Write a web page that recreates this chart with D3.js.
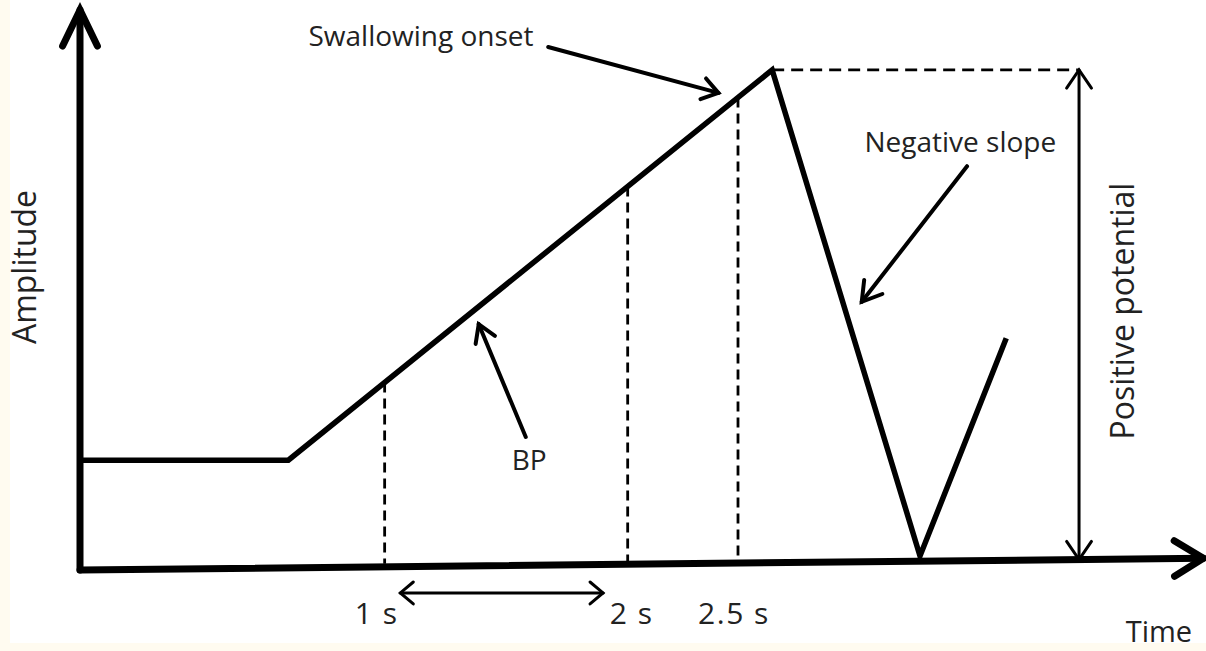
<!DOCTYPE html>
<html>
<head>
<meta charset="utf-8">
<script src="https://d3js.org/d3.v7.min.js"></script>
<style>
  body { margin: 0; background: #fffbf0; }
  text { font-family: "Open Sans", Lato, sans-serif; fill: #222; }
</style>
</head>
<body>
<div id="chart"></div>
<script>
// schematic of the swallowing potential (arbitrary units, time 0-100, amplitude 0-100)
const signalTime = [0, 18.6, 61.8, 75.0, 82.7];
const signalAmp  = [19.6, 19.6, 89.3, 2.5, 41.4];

// dashed markers along the rising limb
const markerTimes  = [27.2, 48.9, 58.75];
const markerLabels = ["1 s", "2 s", "2.5 s"];

// axis ends (x axis is drawn slightly tilted, like the original)
const axisEndTime = 100.3;
const axisEndAmp  = 2.1;
const yAxisTop    = 100;

// positive potential measured at this time
const potentialTime = 89.2;
// time span arrow between 1 s and 2 s
const spanTimes = [28.6, 46.7];

const width = 1206, height = 651;

const svg = d3.select("#chart").append("svg")
    .attr("width", width)
    .attr("height", height);

// white paper with thin cream border left/bottom
svg.append("rect")
    .attr("x", 10).attr("y", 0)
    .attr("width", width - 10).attr("height", 643)
    .attr("fill", "#ffffff");

let x = d3.scaleLinear().domain([0, 100]).range([80, 1200]);
let y = d3.scaleLinear().domain([0, 100]).range([570, 10]);

// interpolate amplitude on the signal for a given time
function ampAt(t) {
    for (let i = 0; i < signalTime.length - 1; i++) {
        if (t >= signalTime[i] && t <= signalTime[i + 1]) {
            let f = (t - signalTime[i]) / (signalTime[i + 1] - signalTime[i]);
            return signalAmp[i] + f * (signalAmp[i + 1] - signalAmp[i]);
        }
    }
    return 0;
}

// open chevron head at tip, pointing from `from` towards tip
function chevron(g, tip, from, len, ang, sw) {
    let a = Math.atan2(tip[1] - from[1], tip[0] - from[0]);
    let p1 = [tip[0] - len * Math.cos(a - ang), tip[1] - len * Math.sin(a - ang)];
    let p2 = [tip[0] - len * Math.cos(a + ang), tip[1] - len * Math.sin(a + ang)];
    g.append("path")
        .attr("d", d3.line()([p1, tip, p2]))
        .attr("fill", "none")
        .attr("stroke", "#000")
        .attr("stroke-width", sw)
        .attr("stroke-linecap", "round")
        .attr("stroke-linejoin", "miter");
}

function arrow(g, from, tip, sw, len, ang, both) {
    g.append("line")
        .attr("x1", from[0]).attr("y1", from[1])
        .attr("x2", tip[0]).attr("y2", tip[1])
        .attr("stroke", "#000")
        .attr("stroke-width", sw)
        .attr("stroke-linecap", "round");
    chevron(g, tip, from, len, ang, sw);
    if (both) chevron(g, from, tip, len, ang, sw);
}

let plot = svg.append("g");

// dashed markers
plot.selectAll(".marker")
    .data(markerTimes)
    .enter()
    .append("line")
    .attr("class", "marker")
    .attr("x1", d => x(d)).attr("x2", d => x(d))
    .attr("y1", d => y(ampAt(d)))
    .attr("y2", d => y(axisEndAmp * d / axisEndTime) - 3)
    .attr("stroke", "#000")
    .attr("stroke-width", 2.8)
    .attr("stroke-dasharray", "10,6");

// dashed line from peak to the potential arrow
let peakIdx = d3.maxIndex(signalAmp);
plot.append("line")
    .attr("x1", x(signalTime[peakIdx])).attr("x2", x(potentialTime))
    .attr("y1", y(signalAmp[peakIdx])).attr("y2", y(signalAmp[peakIdx]))
    .attr("stroke", "#000")
    .attr("stroke-width", 2.8)
    .attr("stroke-dasharray", "12,7");

// axes
arrow(plot, [x(0), y(0)], [x(0), y(yAxisTop)], 7, 40, 0.45, false);
arrow(plot, [x(0), y(0)], [x(axisEndTime), y(axisEndAmp)], 7, 34, 0.55, false);

// signal
plot.append("path")
    .datum(d3.zip(signalTime, signalAmp))
    .attr("d", d3.line().x(d => x(d[0])).y(d => y(d[1])))
    .attr("fill", "none")
    .attr("stroke", "#000")
    .attr("stroke-width", 5.5)
    .attr("stroke-linejoin", "miter");

// positive potential double arrow
arrow(plot, [x(potentialTime), y(axisEndAmp * potentialTime / axisEndTime)],
      [x(potentialTime), y(signalAmp[peakIdx])], 3, 22, 0.6, true);

// 1 s - 2 s span arrow
arrow(plot, [x(spanTimes[0]), y(-4.1)], [x(spanTimes[1]), y(-4.1)], 3, 17, 0.7, true);

// annotation arrows
arrow(plot, [x(41.8), y(93.4)], [x(57.0), y(85.2)], 4, 19, 0.6, false);
arrow(plot, [x(79.2), y(72.1)], [x(69.8), y(47.9)], 4, 22, 0.55, false);
arrow(plot, [x(39.8), y(23.75)], [x(35.6), y(43.9)], 4, 20, 0.55, false);

// labels
plot.append("text").attr("x", x(20.4)).attr("y", y(93.6))
    .style("font-size", "28px").text("Swallowing onset");
plot.append("text").attr("x", x(78.6)).attr("y", y(74.6))
    .style("text-anchor", "middle").style("font-size", "28px").text("Negative slope");
plot.append("text").attr("x", x(40.1)).attr("y", y(17.9))
    .style("text-anchor", "middle").style("font-size", "28px").text("BP");
plot.append("text").attr("x", x(99.3)).attr("y", 642)
    .style("text-anchor", "end").style("font-size", "29px").text("Time");

let labelShift = [-8, 4, -4];
plot.selectAll(".mlabel")
    .data(markerTimes)
    .enter()
    .append("text")
    .attr("class", "mlabel")
    .attr("x", (d, i) => x(d) + labelShift[i])
    .attr("y", y(-9.6))
    .style("text-anchor", "middle")
    .style("font-size", "30px")
    .style("letter-spacing", "1.5px")
    .text((d, i) => markerLabels[i]);

plot.append("text")
    .attr("transform", `translate(36, 267) rotate(-90)`)
    .style("text-anchor", "middle").style("font-size", "32px")
    .text("Amplitude");
plot.append("text")
    .attr("transform", `translate(1134, 311) rotate(-90)`)
    .style("text-anchor", "middle").style("font-size", "32px")
    .text("Positive potential");
</script>
</body>
</html>
